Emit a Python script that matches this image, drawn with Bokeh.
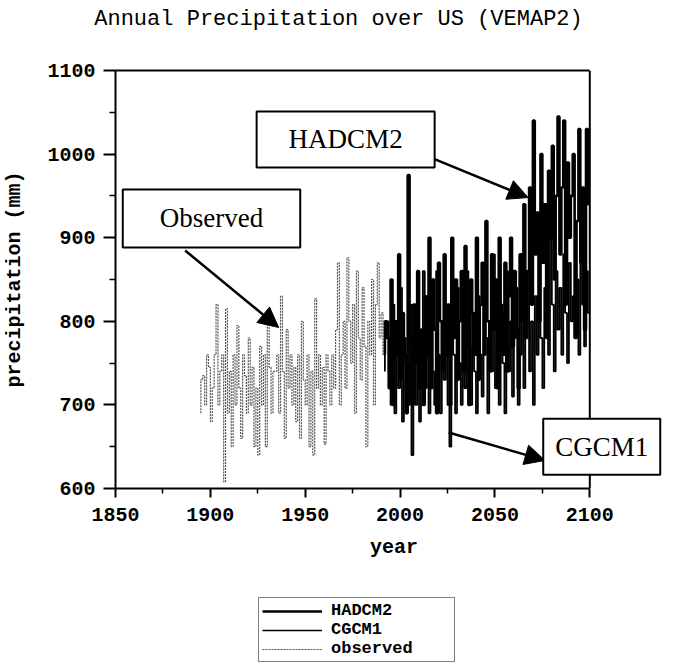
from bokeh.plotting import figure
from bokeh.layouts import column
from bokeh.models import (FixedTicker, Label, Arrow, NormalHead, Legend, LegendItem,
                          LinearAxis, Span)
from bokeh.embed import file_html
from bokeh.resources import INLINE

# ---------------- data ----------------
obs_years = list(range(1895, 1994))
observed = [
    690, 730, 735, 700, 760, 745, 680, 720, 760, 820,   # 1895-1904
    700, 740, 760, 608, 815, 690, 740, 650, 760, 700,   # 1905-1914
    795, 720, 660, 760, 735, 690, 780, 700, 745, 650,   # 1915-1924
    720, 640, 770, 700, 760, 650, 800, 745, 690, 740,   # 1925-1934
    740, 760, 690, 830, 740, 660, 790, 720, 760, 700,   # 1935-1944
    745, 680, 760, 660, 800, 730, 700, 760, 650, 740,   # 1945-1954
    640, 827, 720, 760, 700, 745, 653, 760, 740, 700,   # 1955-1964
    760, 720, 790, 870, 700, 760, 800, 720, 876, 800,   # 1965-1974
    750, 820, 690, 860, 780, 730, 840, 770, 650, 800,   # 1975-1984
    760, 850, 700, 820, 870, 780, 810, 760, 800,        # 1985-1993
]

model_years = list(range(1992, 2101))
hadcm2 = [
    760, 800,                                            # 1992-1993
    780, 720, 850, 700, 800, 760, 880, 730, 810, 760,   # 1994-2003
    690, 975, 780, 700, 820, 750, 860, 720, 790, 700,   # 2004-2013
    830, 760, 900, 720, 850, 790, 690, 870, 800, 740,   # 2014-2023
    880, 760, 820, 700, 900, 780, 850, 730, 800, 860,   # 2024-2033
    740, 890, 790, 700, 850, 810, 760, 900, 730, 820,   # 2034-2043
    870, 760, 920, 800, 740, 880, 790, 850, 720, 900,   # 2044-2053
    810, 760, 870, 740, 830, 900, 770, 860, 790, 720,   # 2054-2063
    880, 800, 940, 780, 860, 960, 820, 1040, 880, 930,  # 2064-2073
    800, 1000, 870, 940, 780, 980, 900, 1010, 850, 950, # 2074-2083
    1045, 880, 960, 1040, 820, 990, 900, 950, 1000, 780,# 2084-2093
    920, 1030, 870, 960, 790, 1030, 940,                # 2094-2100
]
cgcm1 = [
    740, 780,                                            # 1992-1993
    800, 740, 700, 820, 690, 770, 720, 840, 680, 780,   # 1994-2003
    750, 700, 820, 640, 760, 700, 800, 680, 740, 860,   # 2004-2013
    720, 780, 690, 810, 740, 700, 860, 760, 690, 800,   # 2014-2023
    730, 780, 700, 650, 820, 760, 690, 840, 750, 700,   # 2024-2033
    800, 720, 860, 770, 700, 810, 740, 690, 830, 760,   # 2034-2043
    710, 850, 780, 690, 800, 740, 880, 720, 770, 700,   # 2044-2053
    820, 750, 690, 860, 740, 800, 710, 780, 840, 700,   # 2054-2063
    760, 820, 720, 790, 860, 740, 800, 700, 830, 760,   # 2064-2073
    880, 780, 720, 840, 800, 760, 900, 820, 740, 860,   # 2074-2083
    790, 840, 760, 880, 810, 750, 870, 800, 830, 780,   # 2084-2093
    850, 760, 900, 820, 770, 860, 810,                  # 2094-2100
]

x_ticks = [1850, 1900, 1950, 2000, 2050, 2100]
x_minor = [1875, 1925, 1975, 2025, 2075]
y_ticks = [600, 700, 800, 900, 1000, 1100]
y_minor = [650, 750, 850, 950, 1050]
series_labels = ["HADCM2", "CGCM1", "observed"]
title_text = "Annual Precipitation over US (VEMAP2)"

MONO = "Liberation Mono"
SERIF = "Liberation Serif"

# layout (pixels)
W = 677
H_TITLE, H_LEG = 36, 89
H_MAIN = 664 - H_TITLE - H_LEG
LEFT, RIGHT, TOP, BOTTOM = 113, 672, 70, 488     # frame in page pixels
AX_RIGHT_PX = 589                                # pixel of year 2100
x_end = 1850 + 250 * (RIGHT - LEFT) / (AX_RIGHT_PX - LEFT)


def strip(height):
    # full-width strip whose frame is not aligned to the main plot's frame
    f = figure(width=W, height=height, x_range=(0, W), y_range=(0, height),
               output_backend="svg", toolbar_location=None,
               x_axis_location=None, y_axis_location=None,
               min_border=0, min_border_left=0, min_border_right=0,
               min_border_top=0, min_border_bottom=0)
    f.frame_align = False
    f.grid.visible = False
    f.outline_line_color = None
    f.background_fill_color = "white"
    f.border_fill_color = "white"
    return f


# ---------------- title strip ----------------
t = strip(H_TITLE)
t.add_layout(Label(x=338, y=H_TITLE - 19, text=title_text,
                   text_align="center", text_baseline="middle",
                   text_font=MONO, text_font_size="22px", text_color="black"))

# ---------------- main plot ----------------
p = figure(width=W, height=H_MAIN, x_range=(1850, x_end), y_range=(600, 1100),
           output_backend="svg", toolbar_location=None,
           min_border_left=LEFT, min_border_right=W - RIGHT,
           min_border_top=TOP - H_TITLE,
           min_border_bottom=H_TITLE + H_MAIN - BOTTOM)
p.grid.visible = False
p.outline_line_color = None
p.background_fill_color = "white"
p.border_fill_color = "white"

for ax in (p.xaxis[0], p.yaxis[0]):
    ax.axis_line_width = 2
    ax.major_tick_line_width = 2
    ax.minor_tick_line_width = 1.5
    ax.major_tick_in = 0
    ax.minor_tick_in = 0
    ax.major_label_text_font = MONO
    ax.major_label_text_font_size = "20px"
    ax.major_label_text_font_style = "bold"
    ax.major_label_text_color = "black"
    ax.axis_label_text_font = MONO
    ax.axis_label_text_font_size = "20px"
    ax.axis_label_text_font_style = "bold"
    ax.axis_label_text_color = "black"

p.xaxis.ticker = FixedTicker(ticks=x_ticks, minor_ticks=x_minor)
p.yaxis.ticker = FixedTicker(ticks=y_ticks, minor_ticks=y_minor)
p.xaxis.bounds = (1850, 2100)
p.xaxis.major_tick_out = 9
p.xaxis.minor_tick_out = 5
p.yaxis.major_tick_out = 12
p.yaxis.minor_tick_out = 6
p.xaxis.major_label_standoff = 10
p.yaxis.major_label_standoff = 8
p.xaxis.axis_label = "year"
p.yaxis.axis_label = "precipitation (mm)"
p.xaxis.axis_label_standoff = 12
p.yaxis.axis_label_standoff = 18

# top border of the frame (only over the 1850-2100 span)
top_ax = LinearAxis(ticker=FixedTicker(ticks=[]), bounds=(1850, 2100),
                    axis_line_width=2, major_tick_line_color=None,
                    minor_tick_line_color=None, major_label_text_font_size="0px")
p.add_layout(top_ax, "above")
# right border at 2100
p.add_layout(Span(location=2100, dimension="height", line_color="black", line_width=2))

OBS_STYLE = dict(line_color="#555555", line_width=1.2, line_dash="2 1")
CG_STYLE = dict(line_color="black", line_width=1.8)
HAD_STYLE = dict(line_color="black", line_width=2.6)

p.step(obs_years, observed, mode="before", **OBS_STYLE)
p.step(model_years, cgcm1, mode="before", **CG_STYLE)
p.step(model_years, hadcm2, mode="before", **HAD_STYLE)


def box(x, y, txt, ph, pv):
    return Label(x=x, y=y, text=txt, text_align="center", text_baseline="middle",
                 text_font=SERIF, text_font_size="27px", text_color="black",
                 border_line_color="black", border_line_width=2,
                 background_fill_color="white", background_fill_alpha=1.0,
                 padding=dict(left=ph, right=ph, top=pv, bottom=pv))


def arrow(x0, y0, x1, y1):
    return Arrow(x_start=x0, y_start=y0, x_end=x1, y_end=y1, line_width=2.5,
                 line_color="black",
                 end=NormalHead(size=20, fill_color="black", line_color="black"))


p.add_layout(arrow(2017.2, 994.8, 2067.5, 948))
p.add_layout(arrow(1886.7, 884.7, 1936.0, 792.6))
p.add_layout(arrow(2025.6, 667.0, 2076.4, 633.6))

p.add_layout(box(1971.3, 1017.5, "HADCM2", 32, 13))
p.add_layout(box(1900.6, 923.0, "Observed", 37, 14))
p.add_layout(box(2106.3, 650.0, "CGCM1", 12, 13))

# ---------------- legend strip ----------------
q = strip(H_LEG)
# same series, lying outside this strip's visible range; used only for legend glyphs
lr_had = q.line(model_years, hadcm2, **HAD_STYLE)
lr_cg = q.line(model_years, cgcm1, **dict(CG_STYLE, line_width=1.5))
lr_obs = q.line(obs_years, observed, **OBS_STYLE)

legend = Legend(items=[LegendItem(label=series_labels[0], renderers=[lr_had]),
                       LegendItem(label=series_labels[1], renderers=[lr_cg]),
                       LegendItem(label=series_labels[2], renderers=[lr_obs])],
                location=(258, 2))
legend.border_line_color = "black"
legend.border_line_width = 1.5
legend.background_fill_color = "white"
legend.background_fill_alpha = 1.0
legend.label_text_font = MONO
legend.label_text_font_size = "17px"
legend.label_text_font_style = "bold"
legend.label_text_color = "black"
legend.glyph_width = 60
legend.glyph_height = 16
legend.label_height = 16
legend.label_width = 120
legend.spacing = 0
legend.padding = 3
legend.label_standoff = 9
legend.margin = 0
q.add_layout(legend)

layout = column(t, p, q, spacing=0)
open("out.html", "w").write(file_html(layout, INLINE))
